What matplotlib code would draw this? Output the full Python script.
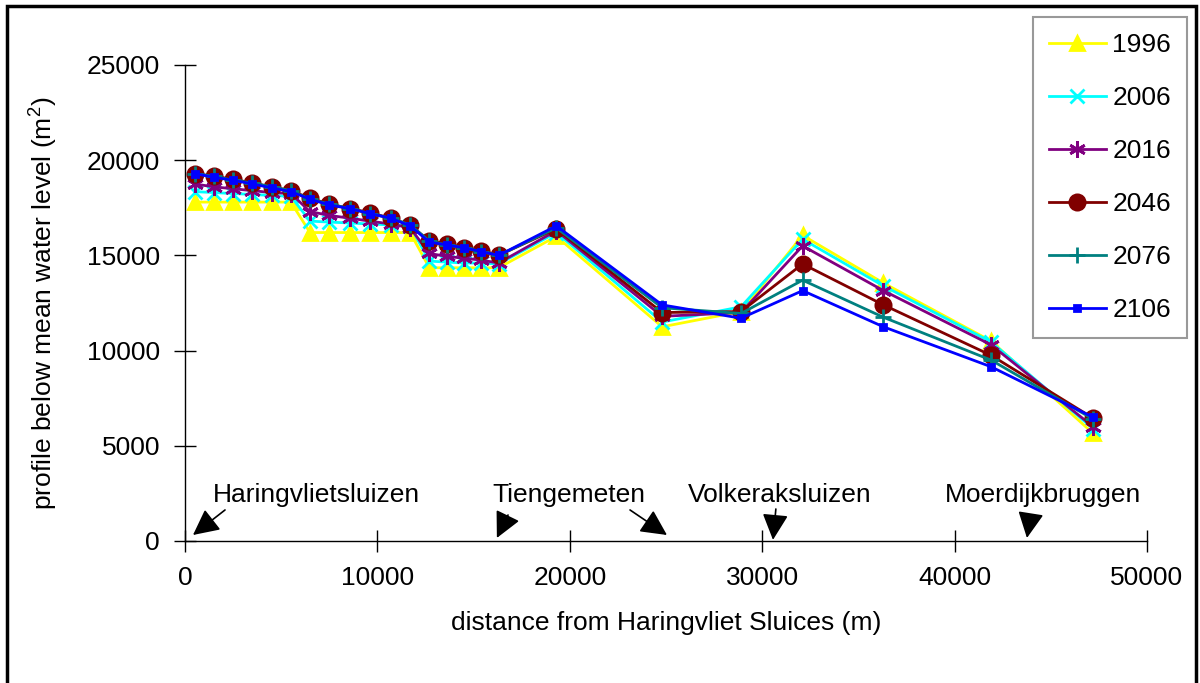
import matplotlib
matplotlib.use("Agg")
import matplotlib.pyplot as plt
from matplotlib.patches import Rectangle

plt.rcParams['font.family'] = ['Liberation Sans', 'DejaVu Sans']
plt.rcParams['mathtext.fontset'] = 'custom'
plt.rcParams['mathtext.rm'] = 'Liberation Sans'

# distance from Haringvliet Sluices (m)
dist = [500, 1500, 2500, 3500, 4500, 5500,
        6500, 7500, 8600, 9600, 10700, 11700,
        12700, 13600, 14500, 15400, 16300,
        19300, 24800, 28900, 32100, 36300, 41900, 47200]

y1996 = [17800, 17800, 17800, 17800, 17800, 17800,
         16200, 16200, 16200, 16200, 16200, 16200,
         14350, 14350, 14350, 14350, 14350,
         16000, 11250, 12050, 16050, 13550, 10500, 5650]
y2006 = [18350, 18300, 18250, 18200, 18150, 18100,
         16800, 16750, 16700, 16650, 16600, 16550,
         14700, 14650, 14600, 14600, 14550,
         16200, 11500, 12300, 15850, 13400, 10450, 5900]
y2016 = [18750, 18600, 18500, 18400, 18300, 18250,
         17300, 17100, 16950, 16800, 16650, 16450,
         15100, 14950, 14850, 14750, 14600,
         16300, 11800, 12000, 15500, 13150, 10300, 6000]
y2046 = [19300, 19150, 19000, 18800, 18600, 18400,
         18000, 17700, 17450, 17250, 16950, 16600,
         15750, 15600, 15400, 15250, 15000,
         16400, 12000, 12050, 14550, 12400, 9750, 6450]
y2076 = [19300, 19150, 18950, 18800, 18600, 18400,
         17950, 17700, 17450, 17200, 16950, 16600,
         15750, 15550, 15400, 15200, 15000,
         16450, 12250, 11950, 13700, 11750, 9500, 6400]
y2106 = [19300, 19100, 18950, 18750, 18550, 18350,
         17950, 17650, 17450, 17200, 16950, 16550,
         15700, 15550, 15400, 15200, 15000,
         16550, 12400, 11700, 13150, 11250, 9150, 6500]

labels = ['1996', '2006', '2016', '2046', '2076', '2106']
colors = ['#FFFF00', '#00FFFF', '#800080', '#800000', '#008080', '#0000FF']
markers = ['^', 'x', (6, 2, 0), 'o', '+', 's']
msizes = [10, 10, 12, 11, 12, 5]
series = [y1996, y2006, y2016, y2046, y2076, y2106]

fs = 19

fig = plt.figure(figsize=(12, 6.83), dpi=100)
ax = fig.add_axes([185/1200, 1-541/683, (1147-185)/1200, (541-65)/683])

for ys, lab, c, m, ms in zip(series, labels, colors, markers, msizes):
    ax.plot(dist, ys, color=c, marker=m, markersize=ms, lw=2,
            markeredgewidth=2, label=lab, clip_on=False)

ax.set_xlim(0, 50000)
ax.set_ylim(0, 25000)
ax.set_xticks(range(0, 50001, 10000))
ax.set_yticks(range(0, 25001, 5000))
for s in ['top', 'right']:
    ax.spines[s].set_visible(False)
for s in ['left', 'bottom']:
    ax.spines[s].set_linewidth(1)
ax.tick_params(direction='inout', length=16, width=1, labelsize=fs, pad=10)

ax.set_xlabel('distance from Haringvliet Sluices (m)', fontsize=fs, labelpad=15)
ax.set_ylabel('profile below mean water level (m$^2$)', fontsize=fs, labelpad=20)

# place names with arrows
ax.text(1450, 2050, 'Haringvlietsluizen', fontsize=fs)
ax.text(15950, 2050, 'Tiengemeten', fontsize=fs)
ax.text(26150, 2050, 'Volkeraksluizen', fontsize=fs)
ax.text(39500, 2050, 'Moerdijkbruggen', fontsize=fs)

arrows = [((2080, 1630), (415, 315)),
          ((16790, 1365), (16210, 160)),
          ((23130, 1630), (25050, 315)),
          ((30710, 1680), (30560, 60)),
          ((43940, 1310), (43760, 160))]
for tail, head in arrows:
    ax.annotate('', xy=head, xytext=tail,
                arrowprops=dict(arrowstyle='-|>,head_length=0.8,head_width=0.4',
                                mutation_scale=20, color='black', lw=1.2,
                                shrinkA=0, shrinkB=0))

leg = ax.legend(loc='upper left', bbox_to_anchor=(1033/1200, 1-17/683),
                bbox_transform=fig.transFigure, fontsize=fs, frameon=True,
                fancybox=False, edgecolor='#808080', handlelength=2.15,
                handletextpad=0.25, labelspacing=1.1, borderpad=0.6,
                borderaxespad=0)
leg.get_frame().set_linewidth(1.5)

# outer chart border
fig.patches.append(Rectangle((7/1200, -0.05), (1196-7)/1200, 1.05-6/683,
                             transform=fig.transFigure, fill=False,
                             edgecolor='black', lw=2.5))

fig.savefig('out.png', dpi=100)
